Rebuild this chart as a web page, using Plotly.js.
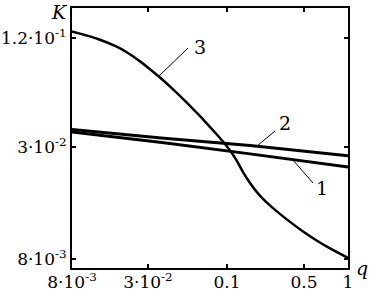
<!DOCTYPE html>
<html>
<head>
<meta charset="utf-8">
<script src="https://cdn.plot.ly/plotly-3.0.1.min.js"></script>
<style>
html,body{margin:0;padding:0;background:#fff;}
#chart{width:370px;height:294px;}
</style>
</head>
<body>
<div id="chart"></div>
<script>
// Curve 3
const q3 = [0.008, 0.0100, 0.0126, 0.0170, 0.0213, 0.0263, 0.0313, 0.0373, 0.0460, 0.0578, 0.0751, 0.0820, 0.0977, 0.1163, 0.1315, 0.1435, 0.1594, 0.1802, 0.2037, 0.2343, 0.2791, 0.3628, 0.4555, 0.5817, 0.7306, 1.0];
const K3 = [0.1300, 0.1245, 0.1186, 0.1088, 0.0999, 0.0901, 0.0819, 0.0739, 0.0647, 0.0555, 0.0460, 0.0431, 0.0377, 0.0327, 0.0292, 0.0265, 0.0232, 0.0203, 0.0181, 0.0163, 0.0146, 0.0126, 0.0112, 0.0100, 0.0091, 0.0081];
// Curves 1 and 2
const q12 = [0.008, 0.0400, 0.1802, 1.0];
const K2 = [0.0391, 0.0351, 0.0321, 0.0283];
const K1 = [0.0379, 0.0332, 0.0290, 0.0247];
// Axes
const xRangeVals = [0.008, 1.0];
const yRangeVals = [0.00716, 0.1733];
const xTickVals = [0.008, 0.0302, 0.1205, 0.4634, 1.0];
const xTickText = ['8·10<sup>-3</sup>', '3·10<sup>-2</sup>', '0.1', '0.5', '1'];
const yTickVals = [0.008, 0.0316, 0.12];
const yTickText = ['8·10<sup>-3</sup>', '3·10<sup>-2</sup>', '1.2·10<sup>-1</sup>'];
const curveLabels = ['1', '2', '3'];

const FONT = 'DejaVu Serif';
const traces = [
  {x: q12, y: K1, mode: 'lines', line: {color: '#000', width: 3}},
  {x: q12, y: K2, mode: 'lines', line: {color: '#000', width: 3}},
  {x: q3, y: K3, mode: 'lines', line: {color: '#000', width: 2.5, shape: 'spline', smoothing: 0.8}}
];
const axisCommon = {
  type: 'log', showgrid: false, zeroline: false, showline: true, linecolor: '#000', linewidth: 2,
  mirror: 'ticks', ticks: 'inside', ticklen: 4, tickwidth: 1.5, tickcolor: '#000',
  tickfont: {family: FONT, size: 17, color: '#000'}, tickmode: 'array'
};
const layout = {
  width: 370, height: 294,
  margin: {l: 72, r: 22, t: 8, b: 26, pad: 0},
  paper_bgcolor: '#fff', plot_bgcolor: '#fff',
  showlegend: false,
  font: {family: FONT, size: 17, color: '#000'},
  xaxis: Object.assign({}, axisCommon, {range: xRangeVals.map(Math.log10), tickvals: xTickVals, ticktext: xTickText, ticklabelstandoff: -2}),
  yaxis: Object.assign({}, axisCommon, {range: yRangeVals.map(Math.log10), tickvals: yTickVals, ticktext: yTickText}),
  shapes: [
    {type: 'line', xref: 'paper', yref: 'paper', x0: 0.8007, y0: 0.4154, x1: 0.8732, y1: 0.3269, line: {color: '#000', width: 1}},
    {type: 'line', xref: 'paper', yref: 'paper', x0: 0.6703, y0: 0.4692, x1: 0.7355, y1: 0.5269, line: {color: '#000', width: 1}},
    {type: 'line', xref: 'paper', yref: 'paper', x0: 0.3116, y0: 0.7346, x1: 0.4203, y1: 0.8462, line: {color: '#000', width: 1}}
  ],
  annotations: [
    {text: curveLabels[0], xref: 'paper', yref: 'paper', x: 0.904, y: 0.3096, showarrow: false, xanchor: 'center', yanchor: 'middle', font: {family: FONT, size: 19}},
    {text: curveLabels[1], xref: 'paper', yref: 'paper', x: 0.7717, y: 0.5558, showarrow: false, xanchor: 'center', yanchor: 'middle', font: {family: FONT, size: 19}},
    {text: curveLabels[2], xref: 'paper', yref: 'paper', x: 0.4638, y: 0.85, showarrow: false, xanchor: 'center', yanchor: 'middle', font: {family: FONT, size: 19}},
    {text: '<i>K</i>', xref: 'paper', yref: 'paper', x: -0.0435, y: 1.0308, showarrow: false, xanchor: 'center', yanchor: 'top', borderpad: 0, font: {family: FONT, size: 19}},
    {text: '<i>q</i>', xref: 'paper', yref: 'paper', x: 1.0507, y: 0.0, showarrow: false, xanchor: 'center', yanchor: 'middle', font: {family: FONT, size: 19}}
  ]
};
Plotly.newPlot('chart', traces, layout, {staticPlot: true, displayModeBar: false});
</script>
</body>
</html>
